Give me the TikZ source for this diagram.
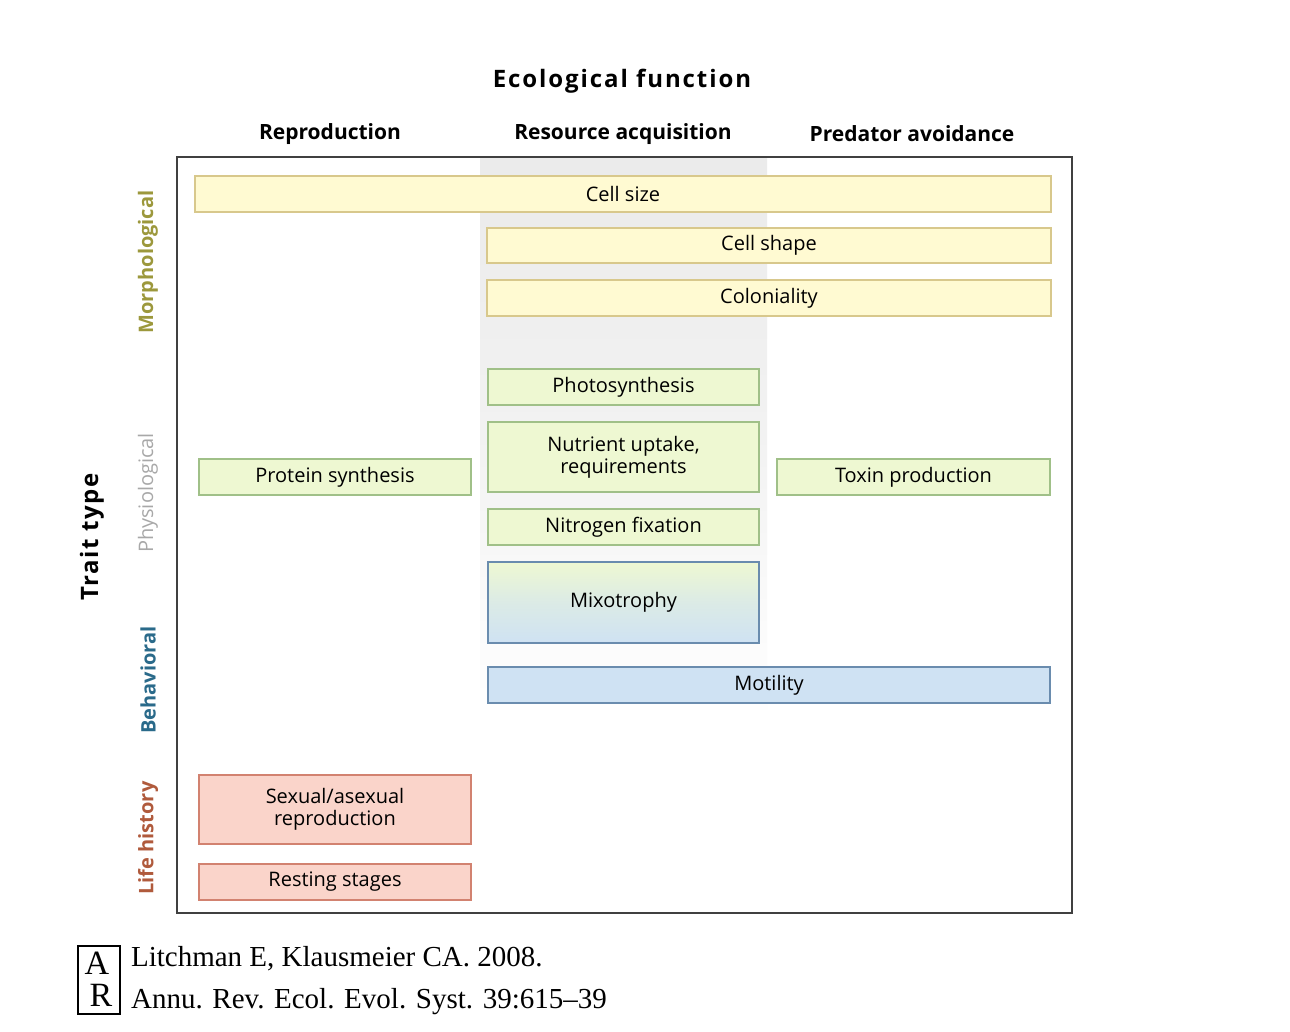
\documentclass[tikz,border=0pt]{standalone}
\usepackage{fontspec}
\setmainfont{Open Sans}
\newfontfamily\citefont{Liberation Serif}
\usetikzlibrary{positioning}
\definecolor{ylwfill}{HTML}{FFFAD2}
\definecolor{ylwdraw}{HTML}{D8C88C}
\definecolor{grnfill}{HTML}{EEF8D2}
\definecolor{grndraw}{HTML}{A0C088}
\definecolor{blufill}{HTML}{CFE2F3}
\definecolor{bludraw}{HTML}{6A8CAE}
\definecolor{pnkfill}{HTML}{FAD4CA}
\definecolor{pnkdraw}{HTML}{D28270}
\definecolor{morphcol}{HTML}{9C983C}
\definecolor{physcol}{HTML}{A8A8A8}
\definecolor{behavcol}{HTML}{2A6A8A}
\definecolor{lifecol}{HTML}{B05A3C}
\tikzset{
  trait/.style = {
    rectangle,
    thick,
    align = center,
    inner sep = 0,
    font = \fontsize{10}{11}\selectfont
  },
  % morphological trait
  morph/.style = {trait, draw = ylwdraw, fill = ylwfill},
  % physiological trait
  phys/.style = {trait, draw = grndraw, fill = grnfill},
  % behavioral trait
  behav/.style = {trait, draw = bludraw, fill = blufill},
  % life history trait
  life/.style = {trait, draw = pnkdraw, fill = pnkfill},
  colhead/.style = {font = \bfseries\fontsize{10.5}{12}\selectfont},
  rowhead/.style = {rotate = 90, font = \bfseries\fontsize{10}{12}\selectfont}
}
\begin{document}
\begin{tikzpicture}[x=0.5pt, y=-0.5pt]
  \useasboundingbox[fill=white] (0,0) rectangle (1290,1032);
  % resource acquisition band
  \shade[top color=gray!16, bottom color=white, middle color=gray!10]
    (480,158) rectangle (767,720);
  \draw[thick, black!75] (177,157) rectangle (1072,913);

  \node[font=\bfseries\fontsize{12}{14}\selectfont\addfontfeatures{LetterSpace=8}] (title) at (622,81) {Ecological function};
  \node[colhead] (repro) at (330,134) {Reproduction};
  \node[colhead] (resource) at (623,134) {Resource acquisition};
  \node[colhead] (predator) at (912,134) {Predator avoidance};

  \node[rotate=90, font=\bfseries\fontsize{12}{14}\selectfont\addfontfeatures{LetterSpace=6}] (traittype) at (92,537) {Trait type};
  \node[rowhead, morphcol] (morphlab) at (148,262) {Morphological};
  \node[rowhead, physcol, font=\fontsize{10}{12}\selectfont] (physlab) at (148,493) {Physiological};
  \node[rowhead, behavcol] (behavlab) at (148,680) {Behavioral};
  \node[rowhead, lifecol] (lifelab) at (148,838) {Life history};

  \node[morph, minimum width=428pt, minimum height=18pt] (cellsize) at (623,194) {Cell size};
  \node[morph, minimum width=282pt, minimum height=17.5pt] (cellshape) at (769,245.5) {Cell shape};
  \node[morph, minimum width=282pt, minimum height=18pt] (colon) at (769,298) {Coloniality};

  \node[phys, minimum width=135.5pt, minimum height=18pt] (photo) at (623.5,387) {Photosynthesis};
  \node[phys, minimum width=135.5pt, minimum height=35pt] (nutrient) at (623.5,457) {Nutrient uptake,\\requirements};
  \node[phys, minimum width=135.5pt, minimum height=18pt] (nitro) at (623.5,527) {Nitrogen fixation};
  \node[trait, draw=bludraw, top color=grnfill, bottom color=blufill, middle color=grnfill!40!blufill,
        minimum width=135.5pt, minimum height=40.5pt] (mixo) at (623.5,602.5) {Mixotrophy};
  \node[phys, minimum width=136pt, minimum height=18pt] (protein) at (335,477) {Protein synthesis};
  \node[phys, minimum width=136.5pt, minimum height=18pt] (toxin) at (913.5,477) {Toxin production};

  \node[behav, minimum width=281pt, minimum height=18pt] (motility) at (769,685) {Motility};

  \node[life, minimum width=136pt, minimum height=34.5pt] (sexual) at (335,809.5) {Sexual/asexual\\reproduction};
  \node[life, minimum width=136pt, minimum height=18pt] (resting) at (335,882) {Resting stages};

  % citation
  \node[draw, thick, minimum width=21pt, minimum height=34pt, inner sep=0] (logo) at (99,980) {};
  \node[font=\citefont\fontsize{17}{17}\selectfont, inner sep=0] (logoA) at (97,963) {A};
  \node[font=\citefont\fontsize{17}{17}\selectfont, inner sep=0] (logoR) at (101,995) {R};
  \node[anchor=west, font=\citefont\fontsize{14.5}{21}\selectfont, align=left] (cite) at (124,981)
    {Litchman E, Klausmeier CA. 2008.\\Annu. Rev. Ecol. Evol. Syst. 39:615–39};
\end{tikzpicture}
\end{document}
